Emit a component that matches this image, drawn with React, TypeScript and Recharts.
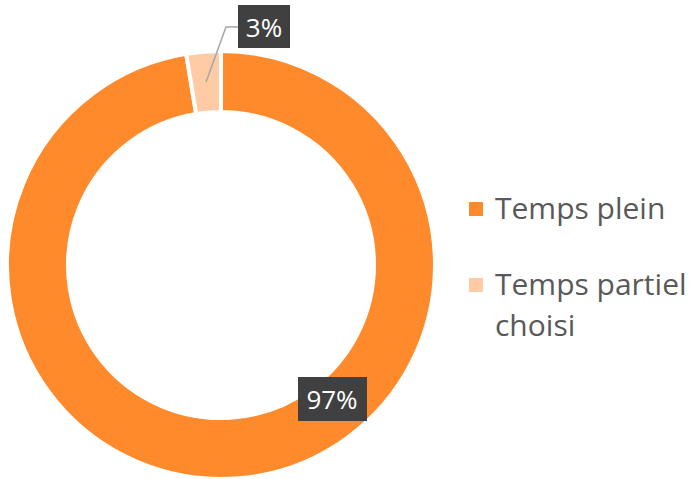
import React from 'react';
import { PieChart, Pie, Cell, Legend } from 'recharts';

const categories = ['Temps plein', 'Temps partiel choisi'];
const shares = [97.4, 2.6];
const colors = ['#FF8A2B', '#FFCBA4'];

const data = categories.map((name, i) => ({ name, value: shares[i] }));

const RAD = Math.PI / 180;
const FONT = "'Open Sans', 'Noto Sans', sans-serif";

const renderLabel = (props: any) => {
    const { cx, cy, midAngle, innerRadius, outerRadius, index, value } = props;
    const text = `${Math.round(value)}%`;
    if (index === 1) {
        const mid = (innerRadius + outerRadius) / 2;
        const sx = cx + mid * Math.cos(-midAngle * RAD);
        const sy = cy + mid * Math.sin(-midAngle * RAD);
        const ex = cx + 5;
        const ey = cy - 238;
        return (
            <g>
                <polyline points={`${sx},${sy} ${ex},${ey} ${ex + 12},${ey}`} fill="none" stroke="#A6A6A6" strokeWidth={1.5} />
                <rect x={ex + 12} y={ey - 22} width={52} height={43} fill="#404040" />
                <text x={ex + 38} y={ey} fill="#fff" fontSize={26} textAnchor="middle" dominantBaseline="central" fontFamily={FONT}>{text}</text>
            </g>
        );
    }
    const bx = cx + 111;
    const by = cy + 134;
    return (
        <g>
            <rect x={bx - 34} y={by - 22} width={69} height={44} fill="#404040" />
            <text x={bx} y={by} fill="#fff" fontSize={26} textAnchor="middle" dominantBaseline="central" fontFamily={FONT}>{text}</text>
        </g>
    );
};

const LegendBox = () => (
    <div style={{ fontFamily: FONT, fontSize: 30, color: '#595959', lineHeight: '41px' }}>
        {categories.map((c, i) => (
            <div key={c} style={{ display: 'flex', alignItems: 'flex-start', marginBottom: i === 0 ? 35 : 0 }}>
                <div style={{ width: 14, height: 14, background: colors[i], marginTop: 15, marginRight: 12, flex: 'none' }} />
                <div style={{ width: 200, whiteSpace: 'nowrap' }}>{i === 1 ? (<>Temps partiel<br />choisi</>) : c}</div>
            </div>
        ))}
    </div>
);

export default function App() {
    return (
        <div style={{ position: 'absolute', left: 0, top: 0, width: 691, height: 479, background: '#fff' }}>
            <PieChart width={691} height={479} margin={{ top: 0, right: 0, bottom: 0, left: 0 }}>
                <Pie
                    data={data}
                    dataKey="value"
                    cx={221}
                    cy={265}
                    innerRadius={153}
                    outerRadius={214}
                    startAngle={90}
                    endAngle={-270}
                    stroke="#fff"
                    strokeWidth={4}
                    label={renderLabel}
                    labelLine={false}
                    isAnimationActive={false}
                >
                    {data.map((d, i) => (
                        <Cell key={`cell-${i}`} fill={colors[i]} />
                    ))}
                </Pie>
                <Legend content={<LegendBox />} wrapperStyle={{ left: 469, top: 187, width: 222 }} />
            </PieChart>
        </div>
    );
}
